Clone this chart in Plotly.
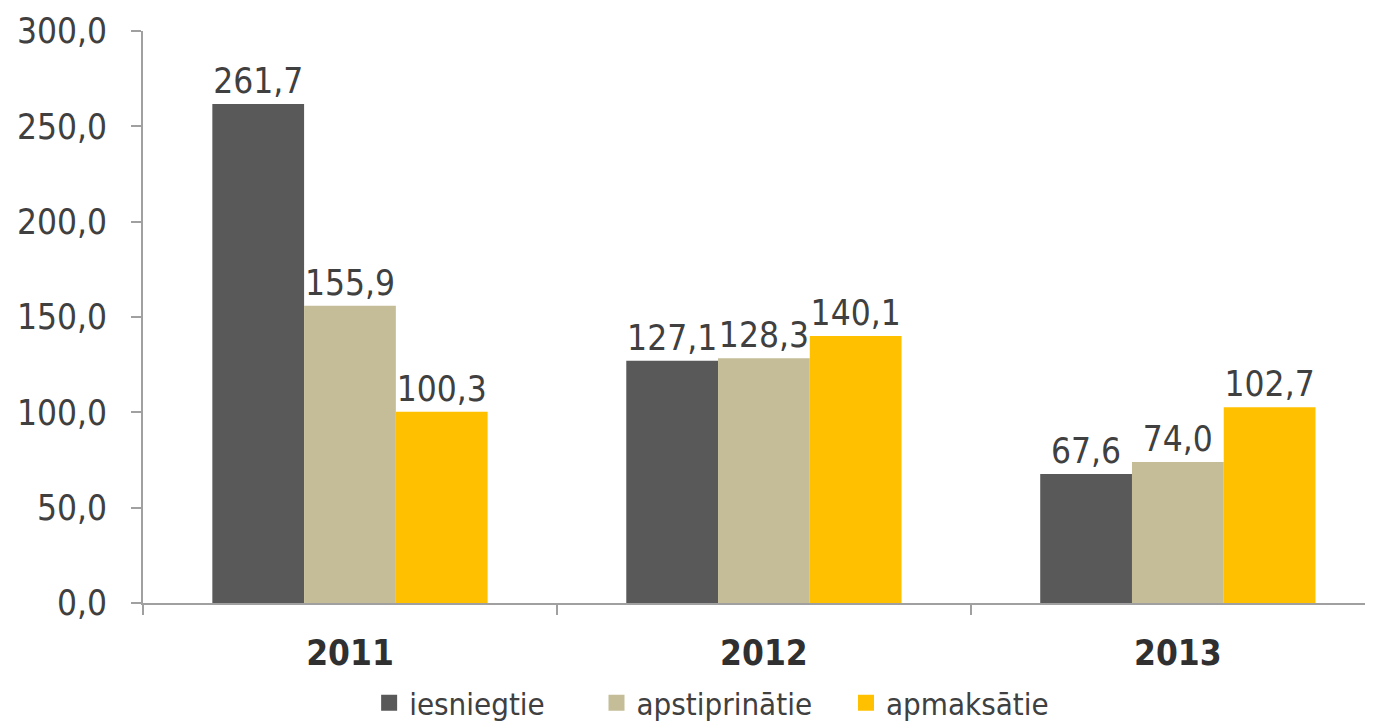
import plotly.graph_objects as go

years = ["2011", "2012", "2013"]
iesniegtie = [261.7, 127.1, 67.6]
apstiprinatie = [155.9, 128.3, 74.0]
apmaksatie = [100.3, 140.1, 102.7]
series_names = ["iesniegtie", "apstiprinātie", "apmaksātie"]
colors = ["#595959", "#C4BD97", "#FFC000"]
y_ticks = [0, 50, 100, 150, 200, 250, 300]

FONT = "DejaVu Sans Condensed, DejaVu Sans, sans-serif"
TXT = "#404040"

fig = go.Figure()
for name, vals, col in zip(series_names, [iesniegtie, apstiprinatie, apmaksatie], colors):
    fig.add_trace(go.Bar(
        x=years, y=vals, name=name, showlegend=False,
        marker=dict(color=col, line=dict(width=0)),
        texttemplate="%{y:.1f}", textposition="outside",
        textfont=dict(family=FONT, size=35, color=TXT),
        cliponaxis=False,
    ))

# legend entries (one legend per entry, to place them like the reference)
legend_ids = ["legend", "legend2", "legend3"]
legend_x = [0.184, 0.369, 0.572]
for name, col, lid in zip(series_names, colors, legend_ids):
    fig.add_trace(go.Scatter(
        x=[None], y=[None], mode="markers", name=name,
        marker=dict(symbol="square", size=22, color=col),
        showlegend=True, legend=lid,
    ))

legend_common = dict(orientation="h", xanchor="left", y=-0.175, yanchor="middle",
                     font=dict(family=FONT, size=31, color=TXT),
                     itemwidth=30, bgcolor="rgba(0,0,0,0)")

fig.update_layout(
    width=1365, height=713,
    paper_bgcolor="white", plot_bgcolor="white",
    separators=", ",
    barmode="group", bargap=0.335, bargroupgap=0,
    margin=dict(l=135, r=1, t=23, b=118, autoexpand=False),
    font=dict(family=FONT, color=TXT),
    showlegend=True,
    legend=dict(x=legend_x[0], **legend_common),
    legend2=dict(x=legend_x[1], **legend_common),
    legend3=dict(x=legend_x[2], **legend_common),
)
fig.update_yaxes(range=[0, 300], tickvals=y_ticks, tickformat=".1f",
                 showgrid=False, zeroline=False, automargin=False,
                 showline=True, linecolor="#A0A0A0", linewidth=2,
                 ticks="outside", ticklen=10, tickcolor="#A0A0A0", tickwidth=2,
                 ticklabelstandoff=17,
                 tickfont=dict(family=FONT, size=35, color=TXT))
fig.update_xaxes(type="category", range=[-0.5, 2.469],
                 showgrid=False, showline=True, linecolor="#A0A0A0", linewidth=2,
                 automargin=False,
                 ticks="outside", ticklen=10, tickcolor="#A0A0A0", tickwidth=2,
                 tickson="boundaries", ticklabelstandoff=18,
                 tickfont=dict(family="DejaVu Sans Condensed, DejaVu Sans", size=35,
                               color="#303030", weight="bold"))

fig.write_html("out.html")
